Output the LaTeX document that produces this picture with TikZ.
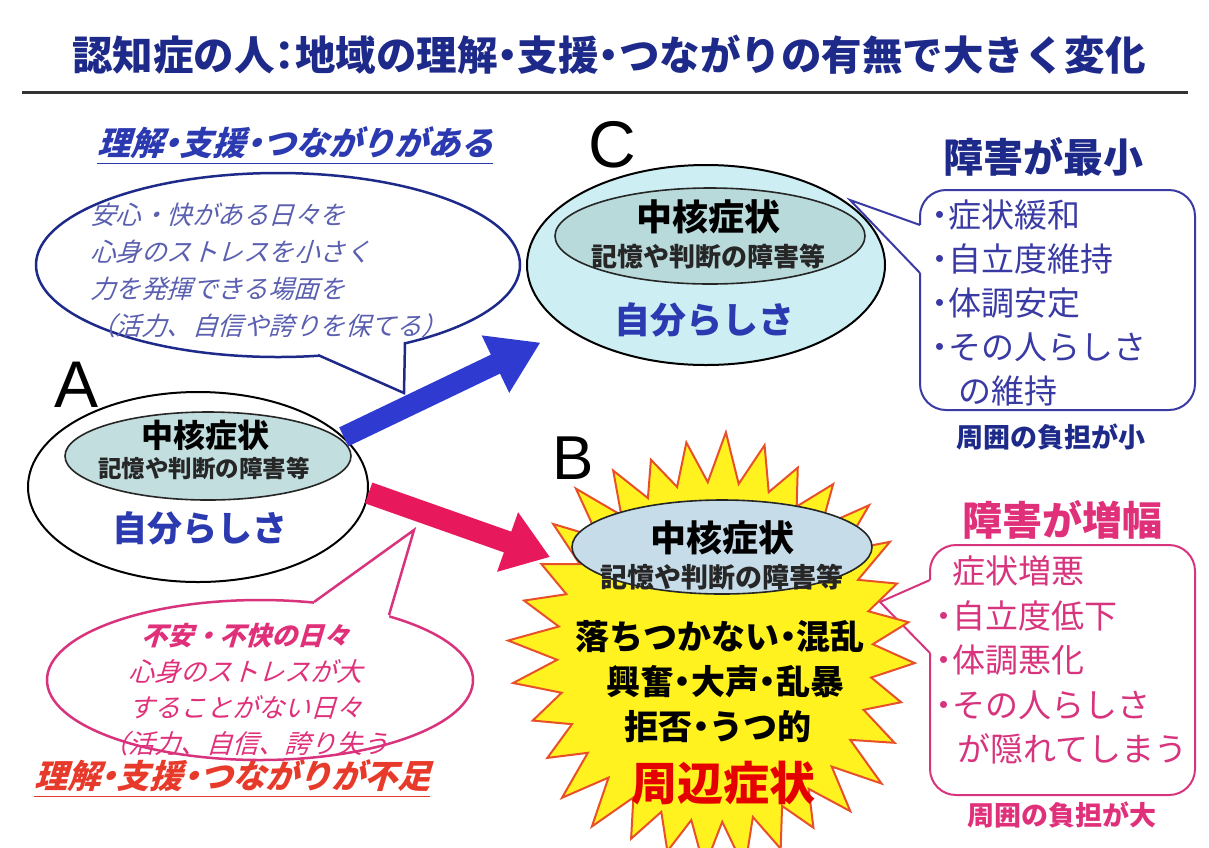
\documentclass[tikz,border=0pt]{standalone}
\usepackage{fontspec}
\newfontfamily\jp{Noto Sans CJK JP}[RawFeature=+halt]
\newfontfamily\jpit{Noto Sans CJK JP}[FakeSlant=0.3,RawFeature=+halt]
\newfontfamily\jpitw{Noto Sans CJK JP}[FakeSlant=0.3]
\newfontfamily\lat{Liberation Sans}
\usetikzlibrary{shapes.geometric,arrows.meta}
\newcommand\fsz[2]{\fontsize{#1}{#2}\selectfont}
\definecolor{navy}{HTML}{1E2A8A}
\definecolor{bblue}{HTML}{2B3AB0}
\definecolor{bubbleblue}{HTML}{5A5FB0}
\definecolor{arrowblue}{HTML}{2F3BD0}
\definecolor{boxblue}{HTML}{3A3AA5}
\definecolor{pinkbox}{HTML}{D8347E}
\definecolor{pinkarrow}{HTML}{E8185C}
\definecolor{pinktext}{HTML}{E0307A}
\definecolor{redtitle}{HTML}{E83A2A}
\definecolor{burstfill}{HTML}{FFF21E}
\definecolor{burstline}{HTML}{E8502A}
\definecolor{innerA}{HTML}{C2DEDF}
\definecolor{outerC}{HTML}{CDEFF3}
\definecolor{innerC}{HTML}{B9DADB}
\definecolor{innerB}{HTML}{C6DCE8}
\tikzset{
  oval/.style={ellipse, inner sep=0pt, line width=2pt, draw=black},
  core/.style={ellipse, inner sep=0pt, line width=1.6pt, draw=black!85},
  jt/.style={inner sep=0pt},
  bubble/.style={ellipse, inner sep=0pt, line width=2.5pt},
  callbox/.style={rounded corners=26pt, line width=2pt, inner sep=0pt},
  burst/.style={fill=burstfill, draw=burstline, line width=2pt, line join=miter},
}
\begin{document}
\begin{tikzpicture}[x=1pt,y=-1pt]
\useasboundingbox (0,0) rectangle (1209,847);
\fill[white] (0,0) rectangle (1209,847);

% title
\node[jt, font=\jp\bfseries\fsz{40.5}{42}, text=navy] (title) at (609,55) {認知症の人：地域の理解・支援・つながりの有無で大きく変化};
\coordinate (ruleL) at (22,92);
\coordinate (ruleR) at (1188,92);
\draw[line width=3pt, black!80] (ruleL) -- (ruleR);

% blue header
\node[jt, font=\jpit\bfseries\fsz{33}{35}, text=bblue] (hdrA) at (295,143) {理解・支援・つながりがある};
\draw[bblue, line width=1.5pt] ([yshift=-4pt]hdrA.south west) -- ([yshift=-4pt]hdrA.south east);

% blue bubble
\node[bubble, draw=navy, minimum width=484pt, minimum height=184pt] (bubA) at (278,265) {};
\coordinate (tA1) at (318,355);
\coordinate (tA2) at (405,342);
\coordinate (tipA) at (404,393);
\fill[white] (tA1) -- (tipA) -- (tA2) -- (405,334) -- (316,347) -- cycle;
\draw[navy, line width=2.5pt, line join=miter] (tA1) -- (tipA) -- (tA2);
\node[jt, anchor=west, align=left, font=\jpitw\fsz{25.5}{37}, text=bubbleblue] (bubAtxt) at (90,270)
  {安心・快がある日々を\\心身のストレスを小さく\\力を発揮できる場面を\\（活力、自信や誇りを保てる）};

% C box (behind C)
\node[callbox, draw=boxblue, minimum width=275pt, minimum height=220pt] (Cbox) at (1057.5,300) {};
\coordinate (Ctail) at (850,200);
\coordinate (cb1) at (920,225);
\coordinate (cb2) at (920,273);
\fill[white] (Ctail) -- (cb1) -- ([xshift=3pt]cb1) -- ([xshift=3pt]cb2) -- (cb2) -- cycle;
\draw[boxblue, line width=2pt] (cb1) -- (Ctail) -- (cb2);
\node[jt, font=\jp\bfseries\fsz{40}{40}, text=navy] (Cttl) at (1043,157) {障害が最小};
\node[jt, anchor=west, align=left, font=\jp\fsz{33}{44}, text=boxblue] (Ctxt) at (932,303)
  {・症状緩和\\・自立度維持\\・体調安定\\・その人らしさ\\\hspace*{0.8em}の維持};
\node[jt, font=\jp\bfseries\fsz{27}{27}, text=navy] (Cnote) at (1051,437) {周囲の負担が小};

% C ellipse
\node[oval, fill=outerC, minimum width=358pt, minimum height=200pt] (C) at (706,265) {};
\node[core, fill=innerC, minimum width=310pt, minimum height=96pt] (Cin) at (710,236) {};
\node[jt, font=\jp\bfseries\fsz{36}{36}] (Ccore) at (708,217) {中核症状};
\node[jt, font=\jp\bfseries\fsz{26}{26}, text=black!85] (Csub) at (708,256) {記憶や判断の障害等};
\node[jt, font=\jp\bfseries\fsz{36}{36}, text=bblue] (Cself) at (704,320) {自分らしさ};
\node[jt, font=\lat\fsz{66}{66}] (labC) at (612,145) {C};

% A ellipse
\node[oval, fill=white, minimum width=340pt, minimum height=190pt] (A) at (198,487) {};
\node[core, fill=innerA, minimum width=286pt, minimum height=88pt] (Ain) at (208,456) {};
\node[jt, font=\jp\bfseries\fsz{32}{32}] (Acore) at (205,435) {中核症状};
\node[jt, font=\jp\bfseries\fsz{23.5}{24}, text=black!85] (Asub) at (204,468) {記憶や判断の障害等};
\node[jt, font=\jp\bfseries\fsz{35}{35}, text=bblue] (Aself) at (200,528) {自分らしさ};
\node[jt, font=\lat\fsz{66}{66}] (labA) at (77,385) {A};

% B box (behind burst)
\node[callbox, draw=pinkbox, minimum width=265pt, minimum height=250pt] (Bbox) at (1062.5,670) {};
\coordinate (Btail) at (880,602);
\coordinate (pb1) at (930,580);
\coordinate (pb2) at (930,653);
\fill[white] (Btail) -- (pb1) -- ([xshift=3pt]pb1) -- ([xshift=3pt]pb2) -- (pb2) -- cycle;
\draw[pinkbox, line width=2pt] (pb1) -- (Btail) -- (pb2);
\node[jt, font=\jp\bfseries\fsz{40}{40}, text=pinktext] (Bttl) at (1062,520) {障害が増幅};
\node[jt, anchor=west, align=left, font=\jp\fsz{33}{44.5}, text=pinkbox] (Btxt) at (936,660)
  {\phantom{・}症状増悪\\・自立度低下\\・体調悪化\\・その人らしさ\\\hspace*{0.65em}が隠れてしまう};
\node[jt, font=\jp\bfseries\fsz{27}{27}, text=pinktext] (Bnote) at (1062,815) {周囲の負担が大};

% starburst B
\coordinate (Bc) at (715,652);
\begin{scope}[shift={(Bc)}]
\filldraw[burst] plot[variable=\t, samples at={0,1,...,63}]
  ({cos(\t*5.625+3)*(mod(\t,2)==0 ? 200+8*sin(\t*137) : 158)},
   {sin(\t*5.625+3)*(mod(\t,2)==0 ? 212+8*sin(\t*137) : 170)}) -- cycle;
\end{scope}
\node[core, fill=innerB, minimum width=300pt, minimum height=94pt] (Bin) at (722,547) {};
\node[jt, font=\jp\bfseries\fsz{36}{36}] (Bcore) at (722,538) {中核症状};
\node[jt, font=\jp\bfseries\fsz{27}{27}, text=black!85] (Bsub) at (722,577) {記憶や判断の障害等};
\node[jt, font=\jp\bfseries\fsz{34}{34}] (b1) at (720,637) {落ちつかない・混乱};
\node[jt, font=\jp\bfseries\fsz{34}{34}] (b2) at (725,682) {興奮・大声・乱暴};
\node[jt, font=\jp\bfseries\fsz{34}{34}] (b3) at (718,727) {拒否・うつ的};
\node[jt, font=\jp\bfseries\fsz{46}{46}, text=red!90!black] (b4) at (723,783) {周辺症状};
\node[jt, font=\lat\fsz{62}{62}] (labB) at (573,458) {B};

% pink bubble
\node[bubble, draw=pinkbox, minimum width=426pt, minimum height=160pt] (bubB) at (260,680) {};
\coordinate (tB1) at (314,602);
\coordinate (tB2) at (389,615);
\coordinate (tipB) at (414,530);
\fill[white] (tB1) -- (tipB) -- (tB2) -- (389,623) -- (314,610) -- cycle;
\draw[pinkbox, line width=2.5pt, line join=miter] (tB1) -- (tipB) -- (tB2);
\node[jt, align=center, font=\jpitw\fsz{26}{36}, text=pinktext] (bubBtxt) at (245,690)
  {{\bfseries 不安・不快の日々}\\心身のストレスが大\\することがない日々\\（活力、自信、誇り失う};
\node[jt, font=\jpit\bfseries\fsz{33}{34}, text=redtitle] (ftr) at (232,776) {理解・支援・つながりが不足};
\draw[redtitle, line width=1.5pt] ([yshift=-4pt]ftr.south west) -- ([yshift=-4pt]ftr.south east);

% arrows
\draw[arrowblue, line width=21pt, -{Triangle[length=50pt,width=60pt]}, shorten >=30pt] (A.19) -- (C.205);
\coordinate (Btip) at (550,557);
\draw[pinkarrow, line width=22pt, -{Triangle[length=45pt,width=60pt]}] (A.-2) -- (Btip);
\end{tikzpicture}
\end{document}
